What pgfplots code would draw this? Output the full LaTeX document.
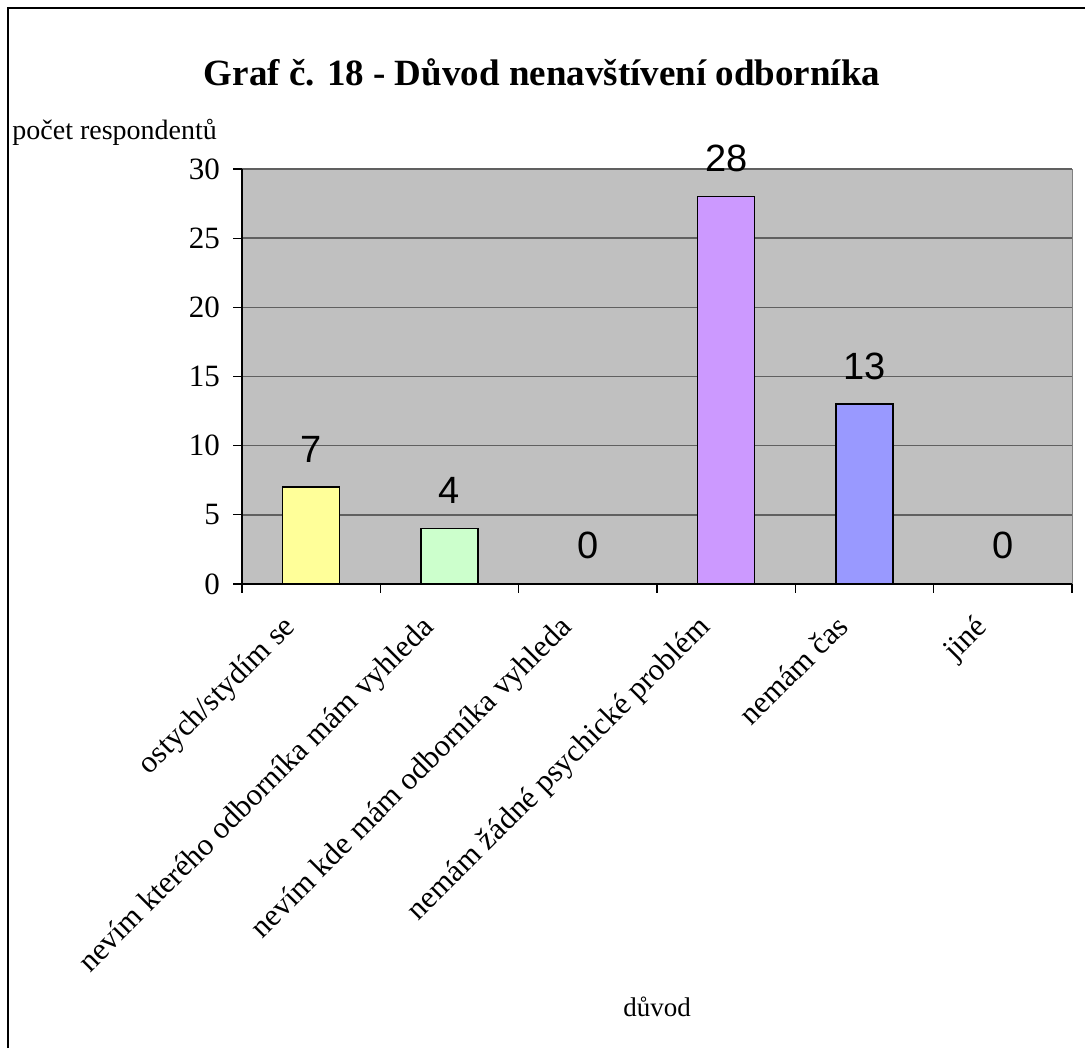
\documentclass[border=0pt]{standalone}
\usepackage{pgfplots}
\pgfplotsset{compat=1.18}
\usepackage{fontspec}
\setmainfont{Liberation Serif}
\setsansfont{Liberation Sans}
\definecolor{bgc}{HTML}{C0C0C0}
\definecolor{cyel}{HTML}{FFFF99}
\definecolor{cgrn}{HTML}{CCFFCC}
\definecolor{cpur}{HTML}{CC99FF}
\definecolor{cblu}{HTML}{9999FF}
\definecolor{gridc}{HTML}{606060}
\begin{document}
\begin{tikzpicture}
\useasboundingbox (0,0) rectangle (542.5pt,524pt);
\draw[line width=1.2pt] (4pt,0pt) -- (4pt,520pt) -- (542.5pt,520pt);
\begin{axis}[
  at={(121pt,232pt)}, anchor=south west,
  scale only axis, width=415pt, height=207.5pt,
  xmin=-0.5, xmax=5.5, ymin=0, ymax=30,
  ybar, bar width=28.5pt, bar shift=0pt,
  clip=false,
  axis x line*=bottom, axis y line*=left,
  axis line style={-, black, line width=0.8pt},
  axis background/.style={fill=bgc, draw=gray},
  ytick={0,5,...,30},
  ymajorgrids, major grid style={gridc, line width=0.7pt},
  xtick={-0.5,0.5,...,5.5},
  xticklabels={},
  extra x ticks={0,...,5},
  extra x tick labels={ostych/stydím se, nevím kterého odborníka mám vyhleda, nevím kde mám odborníka vyhleda, nemám žádné psychické problém, nemám čas, jiné},
  extra x tick style={major tick length=0pt},
  tick align=outside,
  major tick length=4.5pt,
  tick style={black, line width=0.6pt},
  x tick label style={xshift=-15pt, yshift=-13pt, rotate=45, anchor=north east, font=\fontsize{15.5}{18}\selectfont, inner sep=1pt},
  y tick label style={xshift=-3pt, font=\fontsize{15.5}{18}\selectfont},
  /pgf/number format/assume math mode=true,
  nodes near coords,
  every node near coord/.append style={font=\sffamily\fontsize{19}{21}\selectfont, anchor=base, yshift=12.5pt, inner sep=0pt},
]
\addplot[fill=cyel, draw=black, line width=0.7pt] coordinates {(0,7)};
\addplot[fill=cgrn, draw=black, line width=0.7pt] coordinates {(1,4)};
\addplot[draw=none, fill=none] coordinates {(2,0)};
\addplot[fill=cpur, draw=black, line width=0.7pt] coordinates {(3,28)};
\addplot[fill=cblu, draw=black, line width=0.7pt] coordinates {(4,13)};
\addplot[draw=none, fill=none] coordinates {(5,0)};
\end{axis}
\node[font=\bfseries\fontsize{18.5}{22}\selectfont] at (271pt,488pt) {Graf č. 18 - Důvod nenavštívení odborníka};
\node[anchor=base west, font=\fontsize{14}{16}\selectfont, inner sep=0pt] at (6pt,454pt) {počet respondentů};
\node[font=\fontsize{13.5}{15}\selectfont] at (328.5pt,20.5pt) {důvod};
\end{tikzpicture}
\end{document}
